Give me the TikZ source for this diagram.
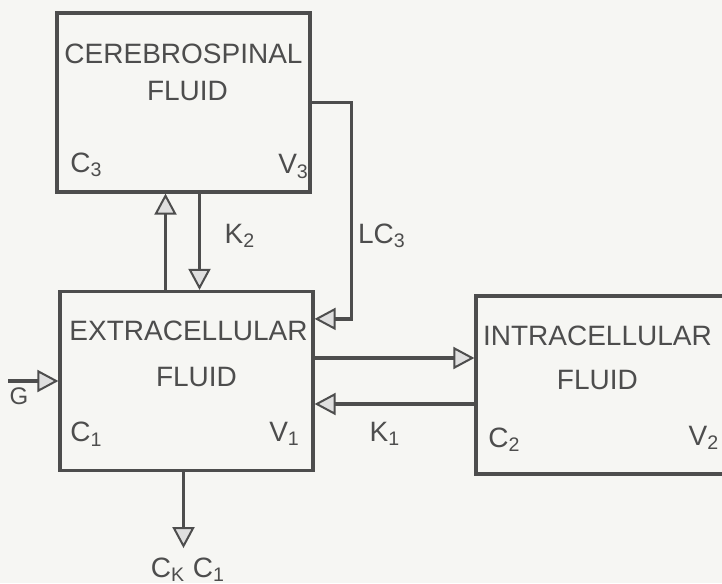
\documentclass[tikz,border=0pt]{standalone}
\usepackage{fontspec}
\setmainfont{Liberation Sans}
\usetikzlibrary{arrows.meta, positioning, calc}
\definecolor{inkgray}{HTML}{4D4D4D}
\definecolor{papertone}{HTML}{F6F6F3}

\begin{document}
\begin{tikzpicture}[
        x=0.5pt, y=-0.5pt,
        box/.style={draw=inkgray, line width=1.6pt, minimum width=126.5pt, minimum height=89.5pt, inner sep=0pt},
        txt/.style={text=inkgray, font=\fontsize{14}{16}\selectfont, inner sep=0pt},
        arr/.style={-{Triangle[length=10.5pt, width=11pt, fill=gray!25, line width=1pt]}, draw=inkgray, line width=1.6pt}
    ]
    \fill[papertone] (0,0) rectangle (722,583);
    \useasboundingbox (0,0) rectangle (722,583);

    % compartments
    \node[box] (csf) at (183.5,102.5) {};
    \node[box] (ecf) at (186.5,381) {};
    \node[box, minimum width=130pt, minimum height=89pt] (icf) at (606,385) {};

    \node[txt] (csft) at ($(csf.north)+(0,42)$) {CEREBROSPINAL};
    \node[txt, below=19pt of csft.center, anchor=center, xshift=2pt] {FLUID};
    \node[txt] at ($(csf.south west)+(31,-29)$) {C\textsubscript{3}};
    \node[txt] at ($(csf.south east)+(-18,-27)$) {V\textsubscript{3}};

    \node[txt] (ecft) at ($(ecf.north)+(2,41)$) {EXTRACELLULAR};
    \node[txt, below=23pt of ecft.center, anchor=center, xshift=4pt] {FLUID};
    \node[txt] at ($(ecf.south west)+(28,-38)$) {C\textsubscript{1}};
    \node[txt] at ($(ecf.south east)+(-30,-38)$) {V\textsubscript{1}};

    \node[txt] (icft) at ($(icf.north west)+(123,41)$) {INTRACELLULAR};
    \node[txt, below=22.5pt of icft.center, anchor=center] {FLUID};
    \node[txt] at ($(icf.south west)+(30,-36)$) {C\textsubscript{2}};
    \node[txt] at (704,438) {V\textsubscript{2}};

    % exchanges
    \draw[arr] ([xshift=-9pt]csf.south |- ecf.north) -- ([xshift=-9pt]csf.south);
    \draw[arr] ([xshift=8pt]csf.south) -- ([xshift=8pt]csf.south |- ecf.north);
    \node[txt] at (240,236) {K\textsubscript{2}};

    \draw[arr] (csf.east) -- ++(40,0) |- ([yshift=-14.5pt]ecf.north east);
    \node[txt] at (382,236) {LC\textsubscript{3}};

    \draw[arr] ([yshift=11.5pt]ecf.east) -- ([yshift=11.5pt]ecf.east -| icf.west);
    \draw[arr] ([yshift=-11.5pt]ecf.east -| icf.west) -- ([yshift=-11.5pt]ecf.east);
    \node[txt] at (385,434) {K\textsubscript{1}};

    \coordinate (gin) at (8,381);
    \draw[arr] (gin) -- (ecf.west);
    \node[txt, font=\fontsize{12}{14}\selectfont] at (19,396) {G};

    \coordinate (out) at ($(ecf.south)+(-3,76)$);
    \draw[arr] (ecf.south -| out) -- (out);
    \node[txt] at (188,570) {C\textsubscript{K} C\textsubscript{1}};
\end{tikzpicture}
\end{document}
